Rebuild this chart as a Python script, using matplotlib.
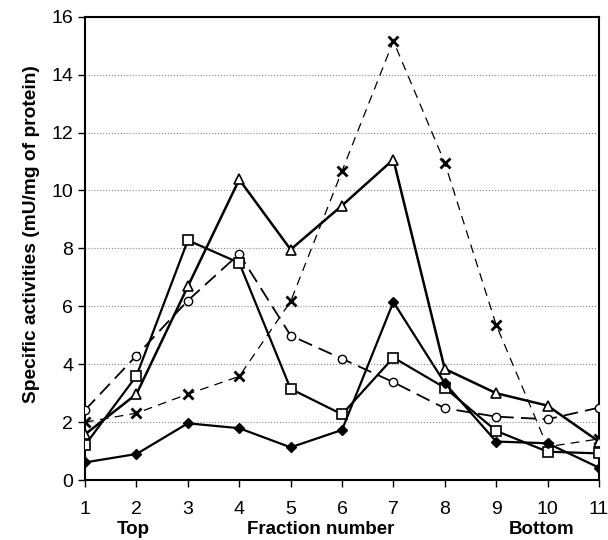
import matplotlib
matplotlib.use('Agg')
import matplotlib.pyplot as plt

plt.rcParams['font.family'] = ['Liberation Sans', 'DejaVu Sans']

fractions = [1, 2, 3, 4, 5, 6, 7, 8, 9, 10, 11]
diamond   = [0.61, 0.90, 1.96, 1.79, 1.13, 1.73, 6.15, 3.35, 1.33, 1.27, 0.43]
square    = [1.21, 3.60, 8.28, 7.50, 3.15, 2.27, 4.23, 3.19, 1.70, 0.98, 0.92]
triangle  = [1.58, 2.97, 6.69, 10.38, 7.96, 9.48, 11.07, 3.84, 3.00, 2.57, 1.33]
circle    = [2.42, 4.30, 6.20, 7.81, 4.99, 4.19, 3.38, 2.48, 2.19, 2.10, 2.50]
cross     = [2.00, 2.31, 2.97, 3.58, 6.17, 10.67, 15.16, 10.96, 5.36, 1.15, 1.42]

fig = plt.figure(figsize=(6.08, 5.40), dpi=100)
ax = fig.add_axes([0.140, 0.111, 0.845, 0.858])

ax.plot(fractions, cross, color='black', lw=0.9, ls=(0, (7, 5)),
        marker='x', ms=7, mew=2, zorder=3)
ax.plot(fractions, circle, color='black', lw=1.3, ls=(0, (8, 4)),
        marker='o', ms=6, mfc='white', mew=1, zorder=3)
ax.plot(fractions, triangle, color='black', lw=1.8,
        marker='^', ms=7, mfc='white', mew=1.2, zorder=4)
ax.plot(fractions, square, color='black', lw=1.6,
        marker='s', ms=6.5, mfc='white', mew=1.2, zorder=4)
ax.plot(fractions, diamond, color='black', lw=1.6,
        marker='D', ms=5, mfc='black', mew=1, zorder=5)

ax.set_xlim(1, 11)
ax.set_ylim(0, 16)
ax.set_xticks(fractions)
ax.set_yticks(range(0, 17, 2))
ax.yaxis.grid(True, color='#888888', ls=':', lw=0.8)
ax.set_axisbelow(True)
for s in ax.spines.values():
    s.set_linewidth(1.5)
ax.tick_params(axis='both', labelsize=14, direction='out', length=5, width=1)
ax.tick_params(axis='x', pad=10)

ax.set_ylabel('Specific activities (mU/mg of protein)', fontsize=13.8,
              fontweight='bold')
ax.yaxis.set_label_coords(-0.088, 0.531)

fig.text(133 / 608, 1 - 530 / 540, 'Top', ha='center', va='center',
         fontsize=13.5, fontweight='bold')
fig.text(321 / 608, 1 - 530 / 540, 'Fraction number', ha='center', va='center',
         fontsize=13.5, fontweight='bold')
fig.text(542 / 608, 1 - 530 / 540, 'Bottom', ha='center', va='center',
         fontsize=13.5, fontweight='bold')

fig.savefig('out.png', dpi=100)
